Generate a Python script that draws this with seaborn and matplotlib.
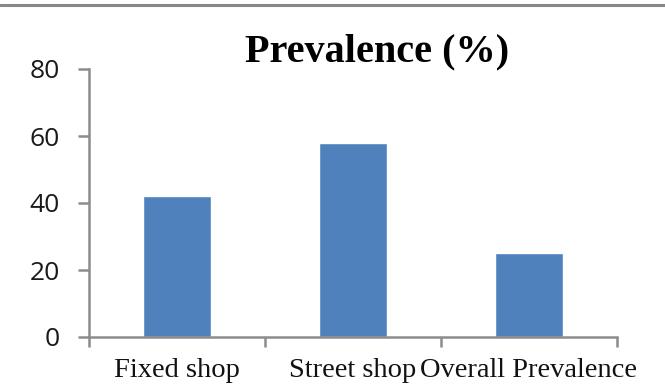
import matplotlib
matplotlib.use("Agg")
import matplotlib.pyplot as plt
import seaborn as sns
import pandas as pd
from matplotlib.lines import Line2D

# Données
categories = ["Fixed shop", "Street shop", "Overall Prevalence"]
prevalence = [42, 58, 25]
y_ticks = [0, 20, 40, 60, 80]

df = pd.DataFrame({"category": categories, "prevalence": prevalence})

sns.set_theme(style="white")
plt.rcParams["font.family"] = ["Liberation Serif", "DejaVu Sans"]

fig = plt.figure(figsize=(6.65, 3.91), dpi=100)
ax = fig.add_axes([89 / 665, 1 - 337 / 391, (617 - 89) / 665, (337 - 69) / 391])

sns.barplot(data=df, x="category", y="prevalence", color="#4F81BD",
            saturation=1, width=0.39, ax=ax)

axis_grey = "#8C8C8C"
ax.set_ylim(0, 80)
ax.set_xlim(-0.5, 2.5)
ax.set_yticks(y_ticks)
ax.set_yticklabels([str(v) for v in y_ticks], family=["Open Sans", "DejaVu Sans"],
                   fontsize=19, color="#1a1a1a")
# graduations entre les catégories, étiquettes au centre
ax.set_xticks([-0.5, 0.5, 1.5, 2.5])
ax.set_xticklabels([])
ax.set_xticks([0, 1, 2], minor=True)
ax.set_xticklabels(categories, minor=True, fontsize=20.5, color="#111111")
ax.tick_params(axis="x", which="minor", bottom=False, length=0, pad=15)
ax.tick_params(axis="x", which="major", bottom=True, length=7, width=1.8,
               color=axis_grey, direction="out")
ax.tick_params(axis="y", left=True, length=8, width=1.8, color=axis_grey,
               direction="out", pad=13)
ax.set_xlabel("")
ax.set_ylabel("")

for side in ["top", "right"]:
    ax.spines[side].set_visible(False)
for side in ["left", "bottom"]:
    ax.spines[side].set_color(axis_grey)
    ax.spines[side].set_linewidth(1.8)

# Titre décalé vers la droite comme dans l'original
fig.text(377 / 665, 1 - 61 / 391, "Prevalence (%)", ha="center", va="baseline",
         fontsize=29, fontweight="bold", color="black")

# Filet gris en haut de l'image
fig.add_artist(Line2D([0, 1], [1 - 5 / 391, 1 - 5 / 391], color="#888888", linewidth=2.2))

fig.savefig("out.png", dpi=100)
